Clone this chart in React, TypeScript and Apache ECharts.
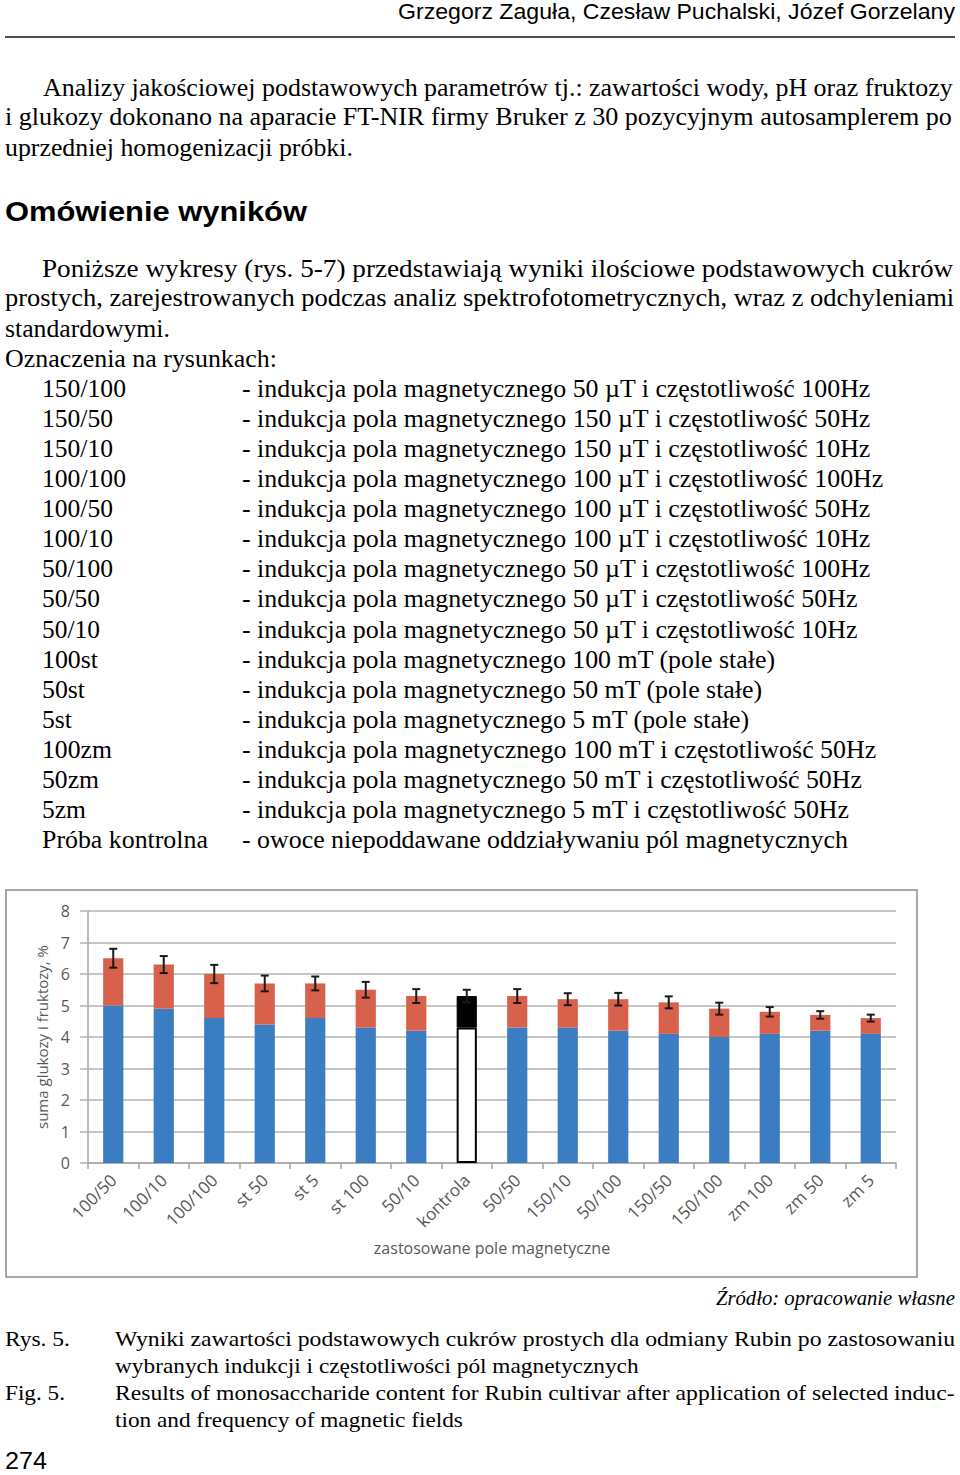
import React, { useEffect, useRef } from "react";
import * as echarts from "echarts";

// ---------- Chart data ----------
const categories = [
  "100/50", "100/10", "100/100", "st 50", "st 5", "st 100", "50/10", "kontrola",
  "50/50", "150/10", "50/100", "150/50", "150/100", "zm 100", "zm 50", "zm 5",
];
const glucose = [5.0, 4.9, 4.6, 4.4, 4.6, 4.3, 4.2, 4.3, 4.3, 4.3, 4.2, 4.1, 4.0, 4.1, 4.2, 4.1];
const fructose = [1.5, 1.4, 1.4, 1.3, 1.1, 1.2, 1.1, 1.0, 1.0, 0.9, 1.0, 1.0, 0.9, 0.7, 0.5, 0.5];
const sumSd = [0.3, 0.27, 0.29, 0.25, 0.22, 0.25, 0.22, 0.2, 0.22, 0.19, 0.2, 0.19, 0.19, 0.15, 0.12, 0.11];
const controlName = "kontrola";
const yAxisTitle = "suma glukozy i fruktozy, %";
const xAxisTitle = "zastosowane pole magnetyczne";

// ---------- Page texts ----------
const headerText = "Grzegorz Zaguła, Czesław Puchalski, Józef Gorzelany";
const para1 = [
  "Analizy jakościowej podstawowych parametrów tj.: zawartości wody, pH oraz fruktozy",
  "i glukozy dokonano na aparacie FT-NIR firmy Bruker z 30 pozycyjnym autosamplerem po",
  "uprzedniej homogenizacji próbki.",
];
const headingText = "Omówienie wyników";
const para2 = [
  "Poniższe wykresy (rys. 5-7) przedstawiają wyniki ilościowe podstawowych cukrów",
  "prostych, zarejestrowanych podczas analiz spektrofotometrycznych, wraz z odchyleniami",
  "standardowymi.",
  "Oznaczenia na rysunkach:",
];
const legendCodes = [
  "150/100", "150/50", "150/10", "100/100", "100/50", "100/10", "50/100", "50/50", "50/10",
  "100st", "50st", "5st", "100zm", "50zm", "5zm", "Próba kontrolna",
];
const legendDescs = [
  "- indukcja pola magnetycznego 50 µT i częstotliwość 100Hz",
  "- indukcja pola magnetycznego 150 µT i częstotliwość 50Hz",
  "- indukcja pola magnetycznego 150 µT i częstotliwość 10Hz",
  "- indukcja pola magnetycznego 100 µT i częstotliwość 100Hz",
  "- indukcja pola magnetycznego 100 µT i częstotliwość 50Hz",
  "- indukcja pola magnetycznego 100 µT i częstotliwość 10Hz",
  "- indukcja pola magnetycznego 50 µT i częstotliwość 100Hz",
  "- indukcja pola magnetycznego 50 µT i częstotliwość 50Hz",
  "- indukcja pola magnetycznego 50 µT i częstotliwość 10Hz",
  "- indukcja pola magnetycznego 100 mT (pole stałe)",
  "- indukcja pola magnetycznego 50 mT (pole stałe)",
  "- indukcja pola magnetycznego 5 mT (pole stałe)",
  "- indukcja pola magnetycznego 100 mT i częstotliwość 50Hz",
  "- indukcja pola magnetycznego 50 mT i częstotliwość 50Hz",
  "- indukcja pola magnetycznego 5 mT i częstotliwość 50Hz",
  "- owoce niepoddawane oddziaływaniu pól magnetycznych",
];
const sourceText = "Źródło: opracowanie własne";
const captionLabels = ["Rys. 5.", "Fig. 5."];
const captionLines = [
  "Wyniki zawartości podstawowych cukrów prostych dla odmiany Rubin po zastosowaniu",
  "wybranych indukcji i częstotliwości pól magnetycznych",
  "Results of monosaccharide content for Rubin cultivar after application of selected induc-",
  "tion and frequency of magnetic fields",
];
const pageNumber = "274";

// ---------- Layout (positions only) ----------
const SERIF = "Liberation Serif, Times New Roman, serif";
const SANS = "Liberation Sans, Arial, sans-serif";
const codeRight = [126, 113, 113, 126, 113, 113, 113, 100, 100, 98, 85, 72, 112, 99, 86, 208];
const descRight = [871, 871, 871, 884, 871, 871, 871, 858, 858, 776, 763, 750, 877, 863, 850, 848];

let measureCtx: CanvasRenderingContext2D | null = null;
function measure(text: string, font: string): number {
  if (!measureCtx) measureCtx = document.createElement("canvas").getContext("2d");
  measureCtx!.font = font;
  return measureCtx!.measureText(text).width;
}

function textEl(text: string, x: number, y: number, right: number | null, font: string, extra: any = {}) {
  let scaleX = 1;
  if (right !== null) {
    const w = measure(text, font);
    if (w > 0) scaleX = (right - x) / w;
  }
  return {
    type: "text",
    x,
    y,
    scaleX,
    silent: true,
    style: {
      text,
      font,
      fill: "#000",
      align: "left",
      verticalAlign: "middle",
      textAlign: "left",
      textVerticalAlign: "middle",
      ...extra,
    },
  };
}

function buildPageGraphics() {
  const els: any[] = [];
  const body = `26px ${SERIF}`;
  els.push(textEl(headerText, 398, 11.5, 955, `22px ${SANS}`));
  els.push({
    type: "line",
    silent: true,
    shape: { x1: 5, y1: 37, x2: 955, y2: 37 },
    style: { stroke: "#111", lineWidth: 1.5 },
  });
  const p1Pos = [[43, 87, 953], [5, 117, 953], [5, 147, 353]];
  para1.forEach((t, i) => els.push(textEl(t, p1Pos[i][0], p1Pos[i][1], p1Pos[i][2], body)));
  els.push(textEl(headingText, 5, 211, 307, `bold 28px ${SANS}`));
  const p2Pos = [[42, 268, 954], [5, 298, 955], [5, 328, 170], [5, 358, 277]];
  para2.forEach((t, i) => els.push(textEl(t, p2Pos[i][0], p2Pos[i][1], p2Pos[i][2], body)));
  legendCodes.forEach((t, i) => {
    const y = 388 + i * 30.13;
    els.push(textEl(t, 42, y, codeRight[i], body));
    els.push(textEl(legendDescs[i], 242, y, descRight[i], body));
  });
  els.push(textEl(sourceText, 716, 1298, 955, `italic 21px ${SERIF}`));
  const cap = `22px ${SERIF}`;
  els.push(textEl(captionLabels[0], 5, 1339, 70, cap));
  els.push(textEl(captionLabels[1], 5, 1393, 65, cap));
  const capPos = [[1339, 955], [1366, 639], [1393, 955], [1420, 463]];
  captionLines.forEach((t, i) => els.push(textEl(t, 115, capPos[i][0], capPos[i][1], cap)));
  els.push(textEl(pageNumber, 5, 1461, 47, `24px ${SANS}`));
  // chart frame
  els.push({
    type: "rect",
    silent: true,
    shape: { x: 6, y: 890, width: 911, height: 387 },
    style: { fill: "none", stroke: "#8c8c8c", lineWidth: 1.5 },
    z: -10,
  });
  return els;
}

const BLUE = "#3a7dc2";
const RED = "#d7614b";
const AXIS_FONT = "Open Sans, sans-serif";

export default function App() {
  const ref = useRef<HTMLDivElement>(null);
  useEffect(() => {
    if (!ref.current) return;
    const chart = echarts.init(ref.current, null, { renderer: "svg" });
    const ctrlIdx = categories.indexOf(controlName);
    const glucoseData = glucose.map((v, i) =>
      i === ctrlIdx
        ? { value: v, itemStyle: { color: "#ffffff", borderColor: "#000", borderWidth: 2 } }
        : v
    );
    const fructoseData = fructose.map((v, i) =>
      i === ctrlIdx ? { value: v, itemStyle: { color: "#000", borderColor: "#000", borderWidth: 1 } } : v
    );
    const errData = categories.map((c, i) => [i, glucose[i] + fructose[i], sumSd[i]]);

    const option: any = {
      animation: false,
      backgroundColor: "#ffffff",
      graphic: { elements: buildPageGraphics() },
      grid: { left: 88, top: 911, width: 808, height: 252, containLabel: false },
      xAxis: {
        type: "category",
        data: categories,
        name: xAxisTitle,
        nameLocation: "middle",
        nameGap: 77,
        nameTextStyle: { fontFamily: AXIS_FONT, fontSize: 16, color: "#595959" },
        axisLine: { show: true, lineStyle: { color: "#a6a6a6", width: 1.5 } },
        axisTick: { show: true, length: 6, lineStyle: { color: "#a6a6a6", width: 1.5 } },
        axisLabel: {
          rotate: 45,
          margin: 14,
          fontFamily: AXIS_FONT,
          fontSize: 17,
          color: "#595959",
        },
      },
      yAxis: {
        type: "value",
        min: 0,
        max: 8,
        interval: 1,
        name: yAxisTitle,
        nameLocation: "middle",
        nameGap: 39,
        nameRotate: 90,
        nameTextStyle: { fontFamily: AXIS_FONT, fontSize: 15, color: "#595959" },
        axisLine: { show: true, lineStyle: { color: "#a6a6a6", width: 1.5 } },
        axisTick: { show: true, length: 8, lineStyle: { color: "#b3b3b3", width: 1.5 } },
        splitLine: { show: true, lineStyle: { color: "#b3b3b3", width: 1.5 } },
        axisLabel: {
          margin: 18,
          fontFamily: AXIS_FONT,
          fontSize: 16,
          color: "#595959",
        },
      },
      series: [
        {
          name: "glukoza",
          type: "bar",
          stack: "sum",
          barWidth: "40%",
          itemStyle: { color: BLUE },
          data: glucoseData,
          z: 2,
        },
        {
          name: "fruktoza",
          type: "bar",
          stack: "sum",
          barWidth: "40%",
          itemStyle: { color: RED },
          data: fructoseData,
          z: 2,
        },
        {
          name: "odchylenie",
          type: "custom",
          z: 5,
          encode: { x: 0, y: 1 },
          data: errData,
          renderItem: (params: any, api: any) => {
            const xi = api.value(0);
            const m = api.value(1);
            const sd = api.value(2);
            const top = api.coord([xi, m + sd]);
            const bot = api.coord([xi, m - sd]);
            const half = 4;
            const st = { stroke: "#1a1a1a", lineWidth: 2 };
            return {
              type: "group",
              children: [
                { type: "line", shape: { x1: top[0], y1: top[1], x2: bot[0], y2: bot[1] }, style: st },
                { type: "line", shape: { x1: top[0] - half, y1: top[1], x2: top[0] + half, y2: top[1] }, style: st },
                { type: "line", shape: { x1: bot[0] - half, y1: bot[1], x2: bot[0] + half, y2: bot[1] }, style: st },
              ],
            };
          },
        },
      ],
    };
    chart.setOption(option);
    return () => chart.dispose();
  }, []);
  return (
    <div
      ref={ref}
      style={{ position: "absolute", left: 0, top: 0, width: 960, height: 1475, background: "#fff" }}
    />
  );
}
